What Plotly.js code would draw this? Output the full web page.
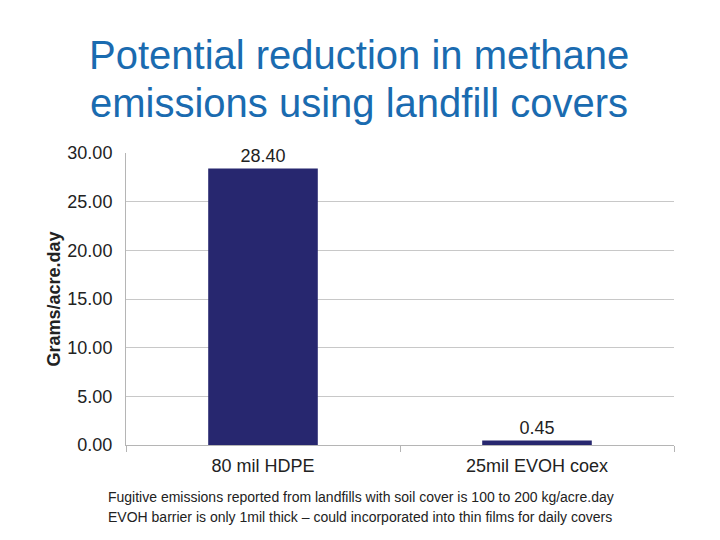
<!DOCTYPE html>
<html>
<head>
<meta charset="utf-8">
<script src="https://cdn.plot.ly/plotly-3.0.1.min.js"></script>
<style>
  body { margin: 0; background: #fff; }
  #chart { width: 720px; height: 540px; }
</style>
</head>
<body>
<div id="chart"></div>
<script>
// chart values
var categories = ['80 mil HDPE', '25mil EVOH coex'];
var emissions = [28.40, 0.45];
var yTicks = [0, 5, 10, 15, 20, 25, 30];
var yTickText = ['0.00', '5.00', '10.00', '15.00', '20.00', '25.00', '30.00'];
var titleLines = ['Potential reduction in methane', 'emissions using landfill covers'];
var noteLines = [
  'Fugitive emissions reported from landfills with soil cover is 100 to 200 kg/acre.day',
  'EVOH barrier is only 1mil thick – could incorporated into thin films for daily covers'
];

var trace = {
  x: categories,
  y: emissions,
  type: 'bar',
  width: 0.4,
  marker: { color: '#27276f' },
  text: emissions.map(function(v){ return v.toFixed(2); }),
  textposition: 'outside',
  textfont: { family: 'Liberation Sans, Arial, sans-serif', size: 18, color: '#222' },
  cliponaxis: false,
  hoverinfo: 'none'
};

// title and footnote go in as annotations, one per line
var annots = [];
var titleY = [1.337, 1.172];
titleLines.forEach(function(t, i){
  annots.push({
    xref: 'paper', yref: 'paper',
    x: 0.425, xanchor: 'center',
    y: titleY[i], yanchor: 'middle',
    showarrow: false,
    text: t,
    font: { size: 40, color: '#1a6bb0' }
  });
});
var noteY = [-0.178, -0.247];
noteLines.forEach(function(t, i){
  annots.push({
    xref: 'paper', yref: 'paper',
    x: -0.037, xanchor: 'left',
    y: noteY[i], yanchor: 'middle',
    showarrow: false,
    text: t,
    font: { size: 14, color: '#222' }
  });
});

var layout = {
  width: 720,
  height: 540,
  margin: { l: 126, r: 46, t: 153, b: 95 },
  paper_bgcolor: '#fff',
  plot_bgcolor: '#fff',
  showlegend: false,
  font: { family: 'Liberation Sans, Arial, sans-serif', color: '#222' },
  xaxis: {
    showline: true,
    linecolor: '#b5b5b5',
    linewidth: 1,
    ticks: 'outside',
    tickson: 'boundaries',
    ticklen: 6,
    tickcolor: '#b5b5b5',
    ticklabelstandoff: 4,
    tickfont: { size: 18, color: '#222' },
    fixedrange: true
  },
  yaxis: {
    range: [0, 30],
    tickvals: yTicks,
    ticktext: yTickText,
    showline: true,
    linecolor: '#b5b5b5',
    showgrid: true,
    gridcolor: '#c8c8c8',
    zeroline: false,
    ticks: '',
    ticklabelstandoff: 9,
    tickfont: { size: 18, color: '#222' },
    title: {
      text: '<b>Grams/acre.day</b>',
      font: { size: 18, color: '#222' },
      standoff: 2
    },
    fixedrange: true
  },
  annotations: annots
};

Plotly.newPlot('chart', [trace], layout, { displayModeBar: false, staticPlot: true });
</script>
</body>
</html>
